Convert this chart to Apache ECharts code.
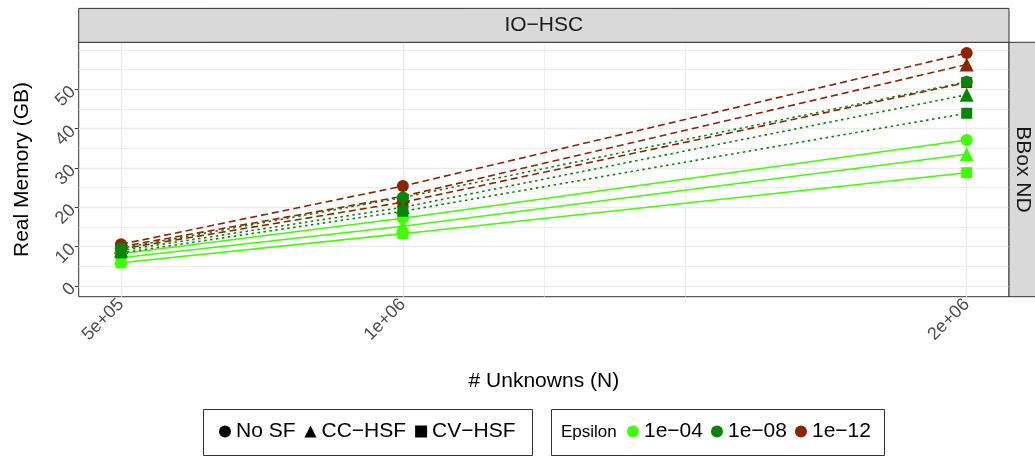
<!DOCTYPE html>
<html>
<head>
<meta charset="utf-8">
<script src="https://cdn.jsdelivr.net/npm/echarts@6/dist/echarts.min.js"></script>
<style>
html,body{margin:0;padding:0;background:#fff;}
#chart{width:1035px;height:457px;}
</style>
</head>
<body>
<div id="chart"></div>
<script>
// ---- data ----
const unknownsN = [500000, 1000000, 2000000];
const xTickLabels = ['5e+05', '1e+06', '2e+06'];
const yTickValues = [0, 10, 20, 30, 40, 50];
const yMajorGrid = [0, 10, 20, 30, 40, 50];
const yMinorGrid = [5, 15, 25, 35, 45, 55, 60];
const xMajorGrid = [500000, 1000000, 2000000];
const xMinorGrid = [1250000, 1500000];

const shapeNames = ['No SF', 'CC\u2212HSF', 'CV\u2212HSF'];
const epsilonNames = ['1e\u221204', '1e\u221208', '1e\u221212'];

// Real memory (GB) per shape, per epsilon
const memNoSF_1e04 = [8.2, 17.2, 37.1];
const memCC_1e04   = [7.2, 15.2, 33.5];
const memCV_1e04   = [5.9, 13.3, 28.8];
const memNoSF_1e08 = [9.6, 22.5, 51.9];
const memCC_1e08   = [9.0, 20.0, 48.6];
const memCV_1e08   = [8.4, 19.0, 43.9];
const memNoSF_1e12 = [10.6, 25.4, 59.2];
const memCC_1e12   = [10.0, 22.8, 56.3];
const memCV_1e12   = [9.4, 21.3, 51.7];

// ---- styles ----
const epsColors = {'1e\u221204': '#40ff00', '1e\u221208': '#078507', '1e\u221212': '#8b2500'};
const epsDash = {'1e\u221204': 'solid', '1e\u221208': [2.5, 3.5], '1e\u221212': [7, 4]};
const shapeSymbols = {'No SF': 'circle', 'CC\u2212HSF': 'triangle', 'CV\u2212HSF': 'rect'};
const shapeSizes = {'No SF': 12, 'CC\u2212HSF': 14, 'CV\u2212HSF': 11};

const groups = [
  // drawing order: 1e-12, 1e-04, 1e-08
  {eps: '1e\u221212', shape: 'No SF', vals: memNoSF_1e12},
  {eps: '1e\u221212', shape: 'CC\u2212HSF', vals: memCC_1e12},
  {eps: '1e\u221212', shape: 'CV\u2212HSF', vals: memCV_1e12},
  {eps: '1e\u221204', shape: 'No SF', vals: memNoSF_1e04},
  {eps: '1e\u221204', shape: 'CC\u2212HSF', vals: memCC_1e04},
  {eps: '1e\u221204', shape: 'CV\u2212HSF', vals: memCV_1e04},
  {eps: '1e\u221208', shape: 'No SF', vals: memNoSF_1e08},
  {eps: '1e\u221208', shape: 'CC\u2212HSF', vals: memCC_1e08},
  {eps: '1e\u221208', shape: 'CV\u2212HSF', vals: memCV_1e08}
];

const FONT = 'Liberation Sans, Arial, Helvetica, sans-serif';
const chart = echarts.init(document.getElementById('chart'), null, {renderer: 'canvas'});

const series = [];
// grid lines
series.push({
  type: 'line', name: '_grid', data: [], silent: true, z: 1,
  markLine: {
    silent: true, symbol: 'none', label: {show: false}, animation: false, z: 1,
    data: []
      .concat(yMinorGrid.map(v => ({yAxis: v, lineStyle: {color: '#ebebeb', width: 0.8, type: 'solid'}})))
      .concat(yMajorGrid.map(v => ({yAxis: v, lineStyle: {color: '#ebebeb', width: 1.4, type: 'solid'}})))
      .concat(xMinorGrid.map(v => ({xAxis: v, lineStyle: {color: '#ebebeb', width: 0.8, type: 'solid'}})))
      .concat(xMajorGrid.map(v => ({xAxis: v, lineStyle: {color: '#ebebeb', width: 1.4, type: 'solid'}})))
  }
});
// lines
groups.forEach(g => {
  series.push({
    type: 'line', name: g.shape + ' ' + g.eps, z: 2,
    data: unknownsN.map((x, i) => [x, g.vals[i]]),
    symbol: 'none', silent: true, animation: false,
    lineStyle: {color: epsColors[g.eps], width: 1.6, type: epsDash[g.eps], cap: 'butt'}
  });
});
// points
groups.forEach(g => {
  series.push({
    type: 'scatter', name: g.shape + ' ' + g.eps + ' pts', z: 3,
    data: unknownsN.map((x, i) => [x, g.vals[i]]),
    symbol: shapeSymbols[g.shape], symbolSize: shapeSizes[g.shape],
    silent: true, animation: false,
    itemStyle: {color: epsColors[g.eps], opacity: 1}
  });
});
// legend dummy series
shapeNames.forEach(n => series.push({type: 'scatter', name: n, data: [], symbol: shapeSymbols[n], itemStyle: {color: '#000', opacity: 1}}));
epsilonNames.forEach(n => series.push({type: 'scatter', name: n, data: [], symbol: 'circle', itemStyle: {color: epsColors[n], opacity: 1}}));

const option = {
  animation: false,
  backgroundColor: '#ffffff',
  textStyle: {fontFamily: FONT},
  grid: {left: 78.7, right: 26, top: 42.3, bottom: 160.3, show: true, borderColor: '#333333', borderWidth: 1, backgroundColor: '#ffffff'},
  xAxis: {
    type: 'value', min: 425000, max: 2075000,
    name: '# Unknowns (N)', nameLocation: 'middle', nameGap: 74,
    nameTextStyle: {fontSize: 21, color: '#000', fontFamily: FONT},
    axisLine: {show: false},
    axisTick: {show: true, length: 4, lineStyle: {color: '#333333', width: 1}, customValues: unknownsN},
    axisLabel: {
      rotate: 45, fontSize: 18, color: '#4d4d4d', margin: 5, fontFamily: FONT,
      customValues: unknownsN,
      formatter: v => { const i = unknownsN.indexOf(v); return i >= 0 ? xTickLabels[i] : ''; }
    },
    splitLine: {show: false}
  },
  yAxis: {
    type: 'value', min: -2.72, max: 61.94,
    name: 'Real Memory (GB)', nameLocation: 'middle', nameGap: 46,
    nameTextStyle: {fontSize: 21, color: '#000', fontFamily: FONT},
    axisLine: {show: false},
    axisTick: {show: true, length: 4, lineStyle: {color: '#333333', width: 1}, customValues: yTickValues},
    axisLabel: {rotate: 45, fontSize: 18, color: '#4d4d4d', margin: 6, fontFamily: FONT, customValues: yTickValues},
    splitLine: {show: false}
  },
  legend: [
    {
      data: shapeNames.map(n => ({name: n, icon: shapeSymbols[n]})),
      left: 219, top: 421, orient: 'horizontal', itemGap: 9, itemWidth: 12, itemHeight: 12, padding: 0,
      selectedMode: false,
      textStyle: {fontSize: 21, color: '#000', fontFamily: FONT}
    },
    {
      data: epsilonNames.map(n => ({name: n, icon: 'circle'})),
      left: 627, top: 421, orient: 'horizontal', itemGap: 8, itemWidth: 12, itemHeight: 12, padding: 0,
      selectedMode: false,
      textStyle: {fontSize: 21, color: '#000', fontFamily: FONT}
    }
  ],
  graphic: [
    // top strip
    {type: 'rect', shape: {x: 78.7, y: 8.4, width: 930.3, height: 33.9}, style: {fill: '#d9d9d9', stroke: '#333333', lineWidth: 1}, z: 10},
    {type: 'text', x: 543.8, y: 25.3, style: {text: 'IO\u2212HSC', fontSize: 21, fontFamily: FONT, fill: '#1a1a1a', textAlign: 'center', textVerticalAlign: 'middle'}, z: 11},
    // right strip
    {type: 'rect', shape: {x: 1009, y: 42.3, width: 40, height: 254.4}, style: {fill: '#d9d9d9', stroke: '#333333', lineWidth: 1}, z: 10},
    {type: 'text', x: 1023, y: 169.5, rotation: -Math.PI / 2, style: {text: 'BBox ND', fontSize: 21, fontFamily: FONT, fill: '#1a1a1a', textAlign: 'center', textVerticalAlign: 'middle'}, z: 11},
    // legend boxes
    {type: 'rect', shape: {x: 203.5, y: 409.5, width: 329, height: 46}, style: {fill: 'none', stroke: '#333333', lineWidth: 1}, z: 10},
    {type: 'rect', shape: {x: 551.5, y: 409.5, width: 333, height: 46}, style: {fill: 'none', stroke: '#333333', lineWidth: 1}, z: 10},
    {type: 'text', x: 561, y: 432.5, style: {text: 'Epsilon', fontSize: 17, fontFamily: FONT, fill: '#000', textAlign: 'left', textVerticalAlign: 'middle'}, z: 11}
  ],
  series: series
};
chart.setOption(option);
</script>
</body>
</html>
